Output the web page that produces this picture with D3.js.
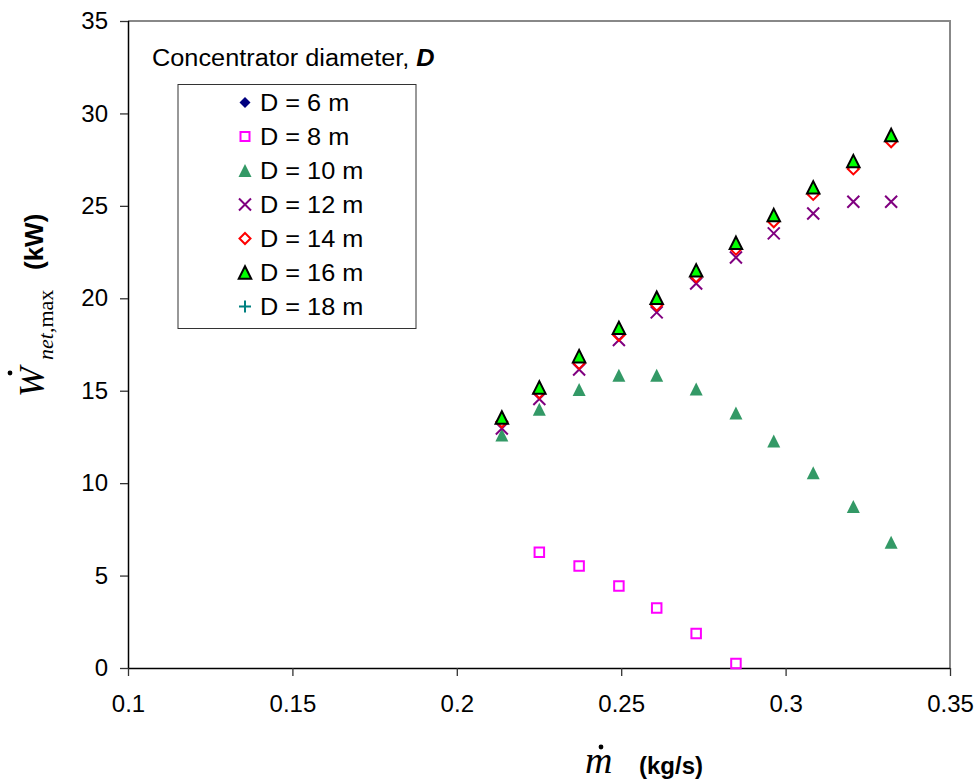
<!DOCTYPE html>
<html>
<head>
<meta charset="utf-8">
<script src="https://cdn.jsdelivr.net/npm/d3@7/dist/d3.min.js"></script>
<style>
  html, body { margin: 0; padding: 0; background: #fff; }
  svg { display: block; }
</style>
</head>
<body>
<svg id="chart" width="979" height="782"></svg>
<script>
// Mass flow rate of the working fluid (kg/s)
const massFlow = [0.2137, 0.2251, 0.2372, 0.2493, 0.2608, 0.2728, 0.2849, 0.2964, 0.3084, 0.3206, 0.3321];

// Maximum net power (kW) for each concentrator diameter; null = no operating point
const powerD6  = [null, null, null, null, null, null, null, null, null, null, null];
const powerD8  = [null, 6.26, 5.52, 4.43, 3.24, 1.86, 0.25, null, null, null, null];
const powerD10 = [12.6, 14.0, 15.07, 15.83, 15.83, 15.09, 13.79, 12.28, 10.56, 8.74, 6.8];
const powerD12 = [12.96, 14.55, 16.15, 17.74, 19.24, 20.8, 22.21, 23.51, 24.59, 25.22, 25.22];
const powerD14 = [13.32, 14.89, 16.48, 18.0, 19.63, 21.17, 22.66, 24.14, 25.62, 27.0, 28.47];
const powerD16 = [13.55, 15.18, 16.87, 18.4, 20.03, 21.51, 23.0, 24.5, 26.0, 27.42, 28.83];
const powerD18 = [null, null, null, null, null, null, null, null, null, null, null];

const seriesNames = ["D = 6 m", "D = 8 m", "D = 10 m", "D = 12 m", "D = 14 m", "D = 16 m", "D = 18 m"];
const seriesValues = [powerD6, powerD8, powerD10, powerD12, powerD14, powerD16, powerD18];

const xTicks = [0.1, 0.15, 0.2, 0.25, 0.3, 0.35];
const yTicks = [0, 5, 10, 15, 20, 25, 30, 35];

// Marker styles, one per series
const markerStyles = [
  { shape: "diamond",  size: 11,  fill: "#000080", stroke: "none",    sw: 0 },
  { shape: "square",   size: 9.5, fill: "none",    stroke: "#FF00FF", sw: 2 },
  { shape: "triangle", size: 13,  fill: "#339966", stroke: "none",    sw: 0 },
  { shape: "cross",    size: 12,  fill: "none",    stroke: "#800080", sw: 2 },
  { shape: "diamond",  size: 11,  fill: "none",    stroke: "#FF0000", sw: 2 },
  { shape: "triangle", size: 12.5, fill: "#00FF00", stroke: "#000000", sw: 2 },
  { shape: "plus",     size: 12,  fill: "none",    stroke: "#008080", sw: 2 }
];

function markerPath(shape, s) {
  const h = s / 2;
  switch (shape) {
    case "diamond":  return `M0,${-h}L${h},0L0,${h}L${-h},0Z`;
    case "square":   return `M${-h},${-h}H${h}V${h}H${-h}Z`;
    case "triangle": return `M0,${-h}L${h},${h}L${-h},${h}Z`;
    case "cross":    return `M${-h},${-h}L${h},${h}M${h},${-h}L${-h},${h}`;
    case "plus":     return `M${-h},0H${h}M0,${-h}V${h}`;
  }
}

// Widen a text run horizontally by factor k
function widen(sel, k) {
  sel.each(function () {
    const len = this.getComputedTextLength();
    d3.select(this).attr("textLength", len * k).attr("lengthAdjust", "spacingAndGlyphs");
  });
}

const svg = d3.select("#chart");
const font = "'Liberation Sans', Arial, sans-serif";
const serif = "'Liberation Serif', 'Times New Roman', serif";

const plot = { left: 128, right: 950, top: 21, bottom: 668 };

const x = d3.scaleLinear().domain([0.1, 0.35]).range([plot.left, plot.right]);
const y = d3.scaleLinear().domain([0, 35]).range([plot.bottom, plot.top]);

// Plot frame: grey top and right edges
svg.append("path")
  .attr("d", `M${plot.left},${plot.top}H${plot.right}V${plot.bottom}`)
  .attr("fill", "none").attr("stroke", "#888").attr("stroke-width", 2);

// Axes
const xAxis = svg.append("g")
  .attr("transform", `translate(0,${plot.bottom})`)
  .call(d3.axisBottom(x).tickValues(xTicks).tickSize(8).tickPadding(19)
    .tickFormat(d => String(+d.toFixed(2))));
const yAxis = svg.append("g")
  .attr("transform", `translate(${plot.left},0)`)
  .call(d3.axisLeft(y).tickValues(yTicks).tickSize(8).tickPadding(12));

[xAxis, yAxis].forEach(g => {
  g.select(".domain").attr("stroke", "#000").attr("stroke-width", 1.5);
  g.selectAll(".tick line").attr("stroke", "#333").attr("stroke-width", 1.3);
  g.selectAll(".tick text").attr("fill", "#000")
    .style("font-family", font).style("font-size", "24px");
});
xAxis.select(".domain").attr("d", `M${plot.left},0.5H${plot.right}`);
yAxis.select(".domain").attr("d", `M0.5,${plot.bottom}V${plot.top}`);

// Data markers
seriesValues.forEach((vals, i) => {
  const st = markerStyles[i];
  const pts = vals.map((v, j) => ({ x: massFlow[j], y: v })).filter(p => p.y !== null);
  svg.append("g").selectAll("path")
    .data(pts).join("path")
    .attr("transform", d => `translate(${x(d.x)},${y(d.y)})`)
    .attr("d", markerPath(st.shape, st.size))
    .attr("fill", st.fill)
    .attr("stroke", st.stroke)
    .attr("stroke-width", st.sw)
    .attr("stroke-linejoin", "miter");
});

// Legend heading
const heading = svg.append("text")
  .attr("x", 152).attr("y", 66)
  .style("font-family", font).style("font-size", "23px").attr("fill", "#000");
heading.append("tspan").text("Concentrator diameter, ");
heading.append("tspan").attr("font-weight", "bold").attr("font-style", "italic").text("D");
widen(heading, 1.1);

// Legend box
svg.append("rect")
  .attr("x", 178).attr("y", 84.5).attr("width", 238).attr("height", 244)
  .attr("fill", "#fff").attr("stroke", "#333").attr("stroke-width", 1);

seriesNames.forEach((name, i) => {
  const cy = 102.5 + i * 34;
  const st = markerStyles[i];
  const lsize = st.shape === "square" ? 9 : st.size;
  svg.append("path")
    .attr("transform", `translate(245,${cy})`)
    .attr("d", markerPath(st.shape, lsize))
    .attr("fill", st.fill).attr("stroke", st.stroke).attr("stroke-width", st.sw);
  const t = svg.append("text")
    .attr("x", 260).attr("y", cy + 8.5)
    .style("font-family", font).style("font-size", "23px").attr("fill", "#000")
    .text(name);
  widen(t, 1.1);
});

// Y axis title: W-dot with subscript net,max and unit
const yTitle = svg.append("g").attr("transform", "translate(44,397) rotate(-90)");
yTitle.append("text")
  .attr("x", 0).attr("y", 0)
  .style("font-family", serif).style("font-size", "36px").style("font-style", "italic")
  .attr("fill", "#000").text("W");
yTitle.append("circle").attr("cx", 24).attr("cy", -34).attr("r", 2.4).attr("fill", "#000");
const sub = yTitle.append("text")
  .attr("x", 37).attr("y", 9)
  .style("font-family", serif).style("font-size", "22px").attr("fill", "#000");
sub.append("tspan").style("font-style", "italic").text("net");
sub.append("tspan").text(",max");
yTitle.append("text")
  .attr("x", 127).attr("y", -1)
  .style("font-family", font).style("font-size", "26px").attr("font-weight", "bold")
  .attr("fill", "#000").text("(kW)");

// X axis title: m-dot and unit
svg.append("text")
  .attr("x", 585).attr("y", 773)
  .style("font-family", serif).style("font-size", "38px").style("font-style", "italic")
  .attr("fill", "#000").text("m");
svg.append("circle").attr("cx", 601).attr("cy", 747).attr("r", 2.4).attr("fill", "#000");
svg.append("text")
  .attr("x", 639).attr("y", 774)
  .style("font-family", font).style("font-size", "24px").attr("font-weight", "bold")
  .attr("fill", "#000").text("(kg/s)");
</script>
</body>
</html>
